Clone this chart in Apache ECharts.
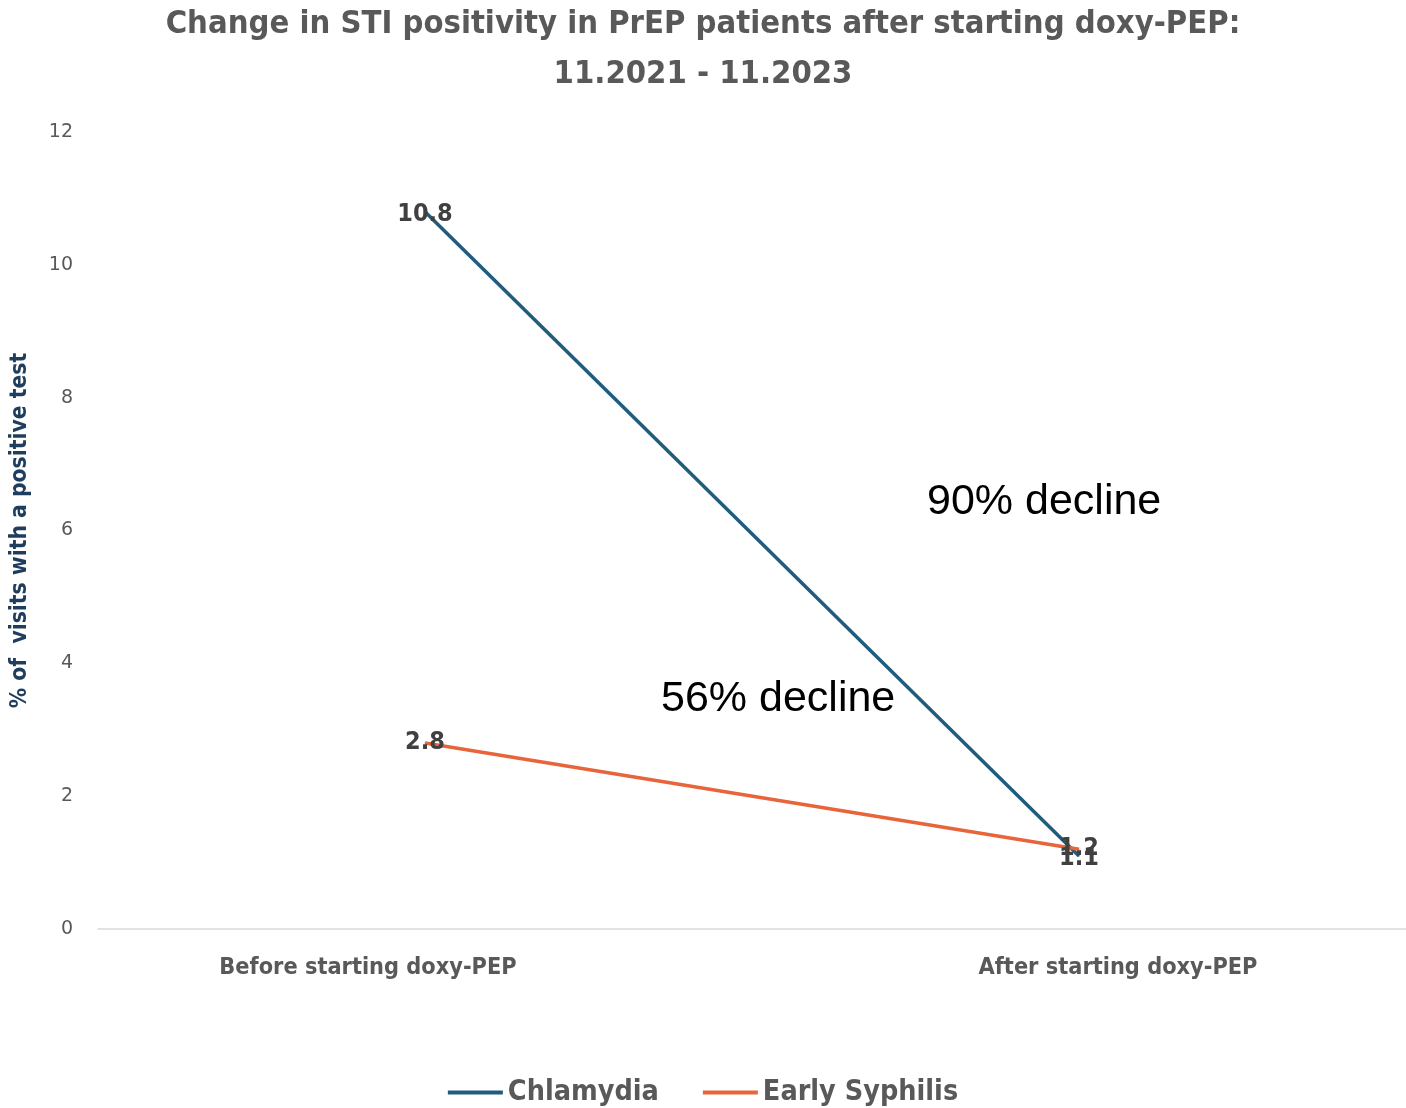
<!DOCTYPE html>
<html>
<head>
<meta charset="utf-8">
<script src="https://cdn.jsdelivr.net/npm/echarts@6/dist/echarts.min.js"></script>
<style>
  html, body { margin: 0; padding: 0; background: #fff; }
  #chart { width: 1406px; height: 1108px; }
</style>
</head>
<body>
<div id="chart"></div>
<script>
// data
var categories = ['Before starting doxy-PEP', 'After starting doxy-PEP'];
var chlamydia = [10.8, 1.1];
var syphilis = [2.8, 1.2];
var seriesNames = ['Chlamydia', 'Early Syphilis'];

var condensed = '"DejaVu Sans Condensed", "DejaVu Sans", sans-serif';
var gray = '#595959';

var chart = echarts.init(document.getElementById('chart'));

function lineSeries(name, data, color, labelOffset) {
    return {
        name: name,
        type: 'line',
        data: data,
        symbol: 'circle',
        symbolSize: 1,
        lineStyle: { color: color, width: 3.5 },
        itemStyle: { color: color },
        label: {
            show: true,
            position: 'inside',
            offset: labelOffset || [0, 0],
            color: '#404040',
            fontFamily: condensed,
            fontWeight: 'bold',
            fontSize: 25
        },
        z: 2
    };
}

// the category labels sit a bit off-centre in the original, nudge them with padding
var catData = [
    { value: categories[0], textStyle: { padding: [0, 114, 0, 0] } },
    { value: categories[1], textStyle: { padding: [0, 0, 0, 78] } }
];

chart.setOption({
    animation: false,
    title: {
        text: 'Change in STI positivity in PrEP patients after starting doxy-PEP:\n11.2021 - 11.2023',
        left: 'center',
        top: -5,
        textStyle: {
            color: gray,
            fontFamily: condensed,
            fontWeight: 'bold',
            fontSize: 32.5,
            lineHeight: 50
        }
    },
    grid: { left: 98, right: 0, top: 132, bottom: 179 },
    legend: {
        top: 1073,
        left: 'center',
        itemWidth: 55,
        itemHeight: 4,
        itemGap: 44,
        data: [
            { name: seriesNames[0], icon: 'rect' },
            { name: seriesNames[1], icon: 'rect' }
        ],
        textStyle: {
            color: gray,
            fontFamily: condensed,
            fontWeight: 'bold',
            fontSize: 28.5
        }
    },
    xAxis: {
        type: 'category',
        data: catData,
        axisLine: { lineStyle: { color: '#d9d9d9', width: 1.5 } },
        axisTick: { show: false },
        axisLabel: {
            color: gray,
            fontFamily: condensed,
            fontWeight: 'bold',
            fontSize: 23.3,
            margin: 27
        }
    },
    yAxis: {
        type: 'value',
        min: 0,
        max: 12,
        interval: 2,
        name: '% of  visits with a positive test',
        nameLocation: 'middle',
        nameRotate: 90,
        nameGap: 66,
        nameTextStyle: {
            color: '#1f3d5c',
            fontFamily: condensed,
            fontWeight: 'bold',
            fontSize: 22.7
        },
        axisLine: { show: false },
        axisTick: { show: false },
        splitLine: { show: false },
        axisLabel: {
            color: gray,
            fontFamily: '"DejaVu Sans", sans-serif',
            fontSize: 19,
            margin: 25
        }
    },
    series: [
        lineSeries(seriesNames[0], chlamydia, '#1f5c7d', [0, 3]),
        lineSeries(seriesNames[1], syphilis, '#e8643a', [0, -1])
    ],
    graphic: [
        {
            type: 'text',
            left: 927,
            top: 481,
            style: {
                text: '90% decline',
                fill: '#000',
                font: '43px "Liberation Sans", "Open Sans", sans-serif'
            }
        },
        {
            type: 'text',
            left: 661,
            top: 678,
            style: {
                text: '56% decline',
                fill: '#000',
                font: '43px "Liberation Sans", "Open Sans", sans-serif'
            }
        }
    ]
});
</script>
</body>
</html>
